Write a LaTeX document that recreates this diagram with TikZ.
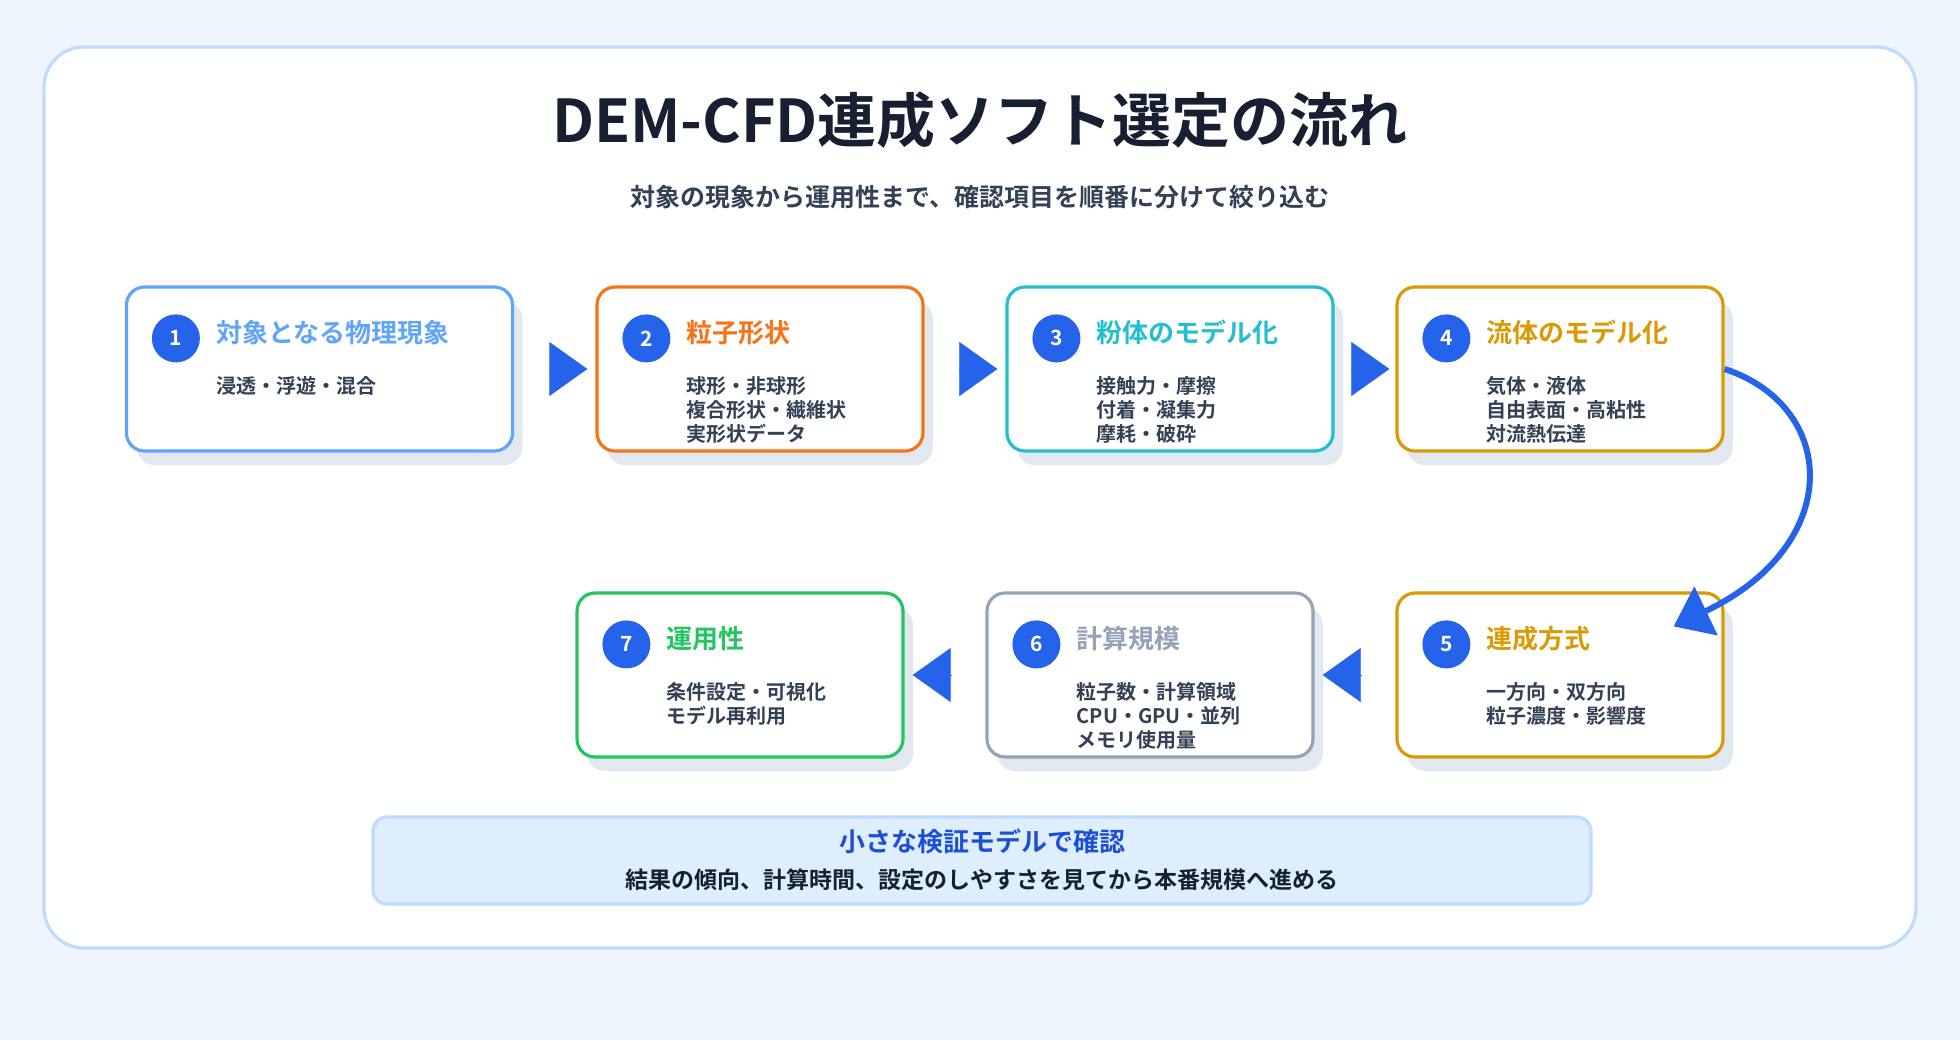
\documentclass[tikz,border=0pt]{standalone}
\usepackage{tikz}
\usepackage{xcolor}
\usepackage{fontspec}
\setmainfont{Noto Sans CJK JP}[BoldFont={Noto Sans CJK JP Bold}]
\usetikzlibrary{arrows.meta,shadows}

\definecolor{pagebg}{HTML}{EFF6FF}
\definecolor{cardline}{HTML}{BFDBFE}
\definecolor{notefill}{HTML}{DEEEFE}
\definecolor{ink}{HTML}{172033}
\definecolor{bodyink}{HTML}{334155}
\definecolor{stepblue}{HTML}{2563EB}
\definecolor{notetitle}{HTML}{1D4ED8}
\definecolor{shade}{HTML}{E2E8F0}
\definecolor{cphys}{HTML}{60A5FA}
\definecolor{cshape}{HTML}{F97316}
\definecolor{cpowder}{HTML}{22C0CE}
\definecolor{cfluid}{HTML}{DA9A06}
\definecolor{cscale}{HTML}{94A3B8}
\definecolor{cops}{HTML}{22C55E}

\begin{document}
\begin{tikzpicture}[x=0.5pt,y=-0.5pt,
        stepbox/.style={draw=#1,line width=1.6pt,fill=white,rounded corners=9pt,minimum width=163pt,minimum height=82pt,
            drop shadow={shadow xshift=5pt,shadow yshift=-7pt,fill=shade,opacity=1}},
        num/.style={circle,fill=stepblue,text=white,minimum size=24pt,inner sep=0pt,font=\bfseries\fontsize{10.5}{10.5}\selectfont},
        steptitle/.style={anchor=west,inner sep=0pt,text=#1,font=\bfseries\fontsize{13}{13}\selectfont},
        stepbody/.style={anchor=north west,inner sep=0pt,align=left,text=bodyink,font=\bfseries\fontsize{10}{12}\selectfont},
        flowtip/.style={draw=stepblue,line width=0.1pt,-{Triangle[length=19pt,width=27pt]}}]

        \fill[pagebg] (0,0) rectangle (1960,1040);
        \draw[cardline,line width=1.6pt,fill=white,rounded corners=20pt] (44,47) rectangle (1916,948);

        \node[text=ink,font=\bfseries\fontsize{29.5}{29.5}\selectfont] (title) at (980,120) {DEM-CFD連成ソフト選定の流れ};
        \node[text=bodyink,font=\bfseries\fontsize{12.5}{12.5}\selectfont] (subtitle) at (980,197) {対象の現象から運用性まで、確認項目を順番に分けて絞り込む};

        \node[stepbox=cphys,minimum width=193pt] (s1) at (319.5,369) {};
        \node[stepbox=cshape] (s2) at (760,369) {};
        \node[stepbox=cpowder] (s3) at (1170,369) {};
        \node[stepbox=cfluid] (s4) at (1560,369) {};
        \node[stepbox=cfluid] (s5) at (1560,675) {};
        \node[stepbox=cscale] (s6) at (1150,675) {};
        \node[stepbox=cops] (s7) at (740,675) {};

        \foreach \s/\n/\c/\t/\b in {
                s1/1/cphys/対象となる物理現象/{浸透・浮遊・混合},
                s2/2/cshape/粒子形状/{球形・非球形\\複合形状・繊維状\\実形状データ},
                s3/3/cpowder/粉体のモデル化/{接触力・摩擦\\付着・凝集力\\摩耗・破砕},
                s4/4/cfluid/流体のモデル化/{気体・液体\\自由表面・高粘性\\対流熱伝達},
                s5/5/cfluid/連成方式/{一方向・双方向\\粒子濃度・影響度},
                s6/6/cscale/計算規模/{粒子数・計算領域\\CPU・GPU・並列\\メモリ使用量},
                s7/7/cops/運用性/{条件設定・可視化\\モデル再利用}}{
            \node[num] (n\n) at ([xshift=25.5pt,yshift=-26.5pt]\s.north west) {\n};
            \node[steptitle=\c] (t\n) at ([xshift=45.5pt,yshift=-23.5pt]\s.north west) {\t};
            \node[stepbody] (d\n) at ([xshift=45.5pt,yshift=-45.5pt]\s.north west) {\b};
        }

        \foreach \a/\b in {s1/s2,s2/s3,s3/s4,s5/s6,s6/s7}{
            \path (\a) -- (\b) coordinate[pos=.43] (tail) coordinate[pos=.9] (head);
            \draw[flowtip] (tail) -- (head);
        }

        \draw[stepblue,line width=3pt,-{Triangle[length=18pt,width=26.5pt]}] (s4.east) .. controls +(113,37) and +(172,-82) .. ([xshift=-25.5pt,yshift=-17.5pt]s5.north east);

        \node[draw=cardline,line width=1.6pt,fill=notefill,rounded corners=7pt,minimum width=609pt,minimum height=43.5pt] (note) at (982,860.5) {};
        \node[text=notetitle,font=\bfseries\fontsize{13}{13}\selectfont] (notehead) at (982,841) {小さな検証モデルで確認};
        \node[text=ink,font=\bfseries\fontsize{11.5}{11.5}\selectfont] (notetext) at (982,880) {結果の傾向、計算時間、設定のしやすさを見てから本番規模へ進める};
    \end{tikzpicture}
\end{document}
